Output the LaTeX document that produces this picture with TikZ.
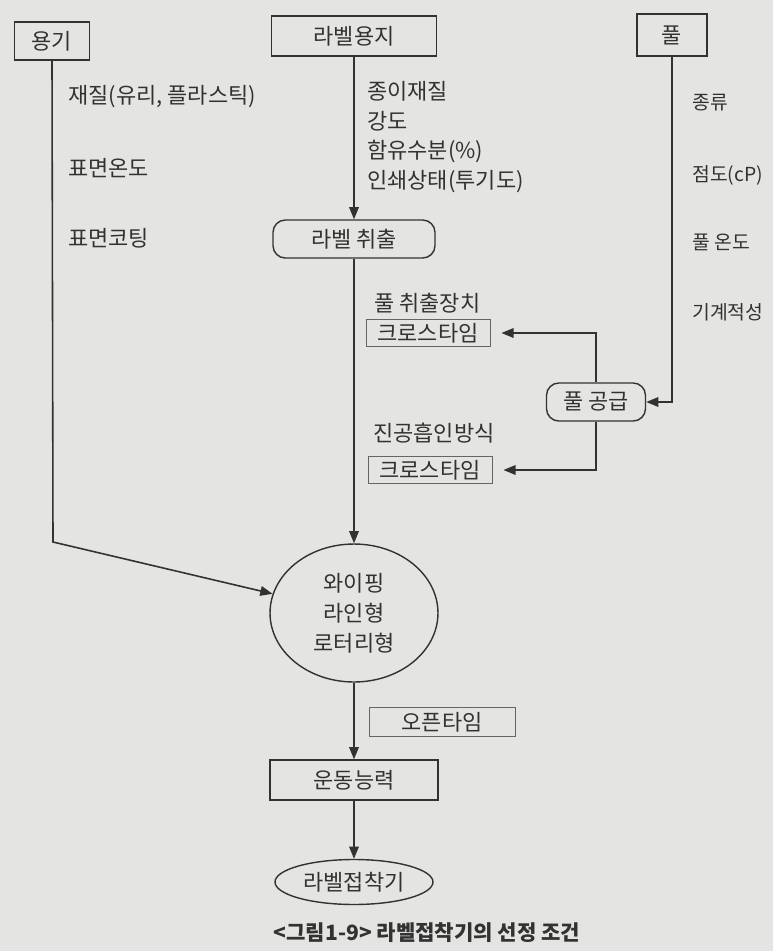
\documentclass[tikz,border=0pt]{standalone}
\usepackage{fontspec}
\setmainfont{Noto Sans CJK KR}
\usetikzlibrary{positioning,arrows.meta,shapes.geometric}
\definecolor{paper}{RGB}{228,228,226}
\definecolor{ink}{RGB}{50,50,50}
\tikzstyle{sbox}=[rectangle, draw=ink, text=ink, line width=0.8pt, inner sep=2pt,
                  text centered, font=\fontsize{12.5}{14}\selectfont]
\tikzstyle{rbox}=[sbox, rounded corners=7pt]
\tikzstyle{tbox}=[sbox, draw=ink!75, line width=0.5pt, minimum width=2.48cm,
                  minimum height=0.53cm]
\tikzstyle{ebox}=[ellipse, draw=ink, text=ink, line width=0.8pt, inner sep=0pt,
                  text centered, font=\fontsize{12.5}{14}\selectfont]
\tikzstyle{note}=[anchor=west, inner sep=0pt, text=ink, align=left,
                  font=\fontsize{12.5}{17}\selectfont]
\tikzstyle{rnote}=[note, font=\fontsize{11}{13}\selectfont]
\tikzstyle{pline}=[-{Triangle[length=7pt,width=5.5pt]}, line width=0.9pt, draw=ink]

\begin{document}
\begin{tikzpicture}[x=0.02cm, y=-0.02cm]
\fill[paper] (0,0) rectangle (773,951);
\useasboundingbox (0,0) rectangle (773,951);

\node (YONGGI) [sbox, minimum width=1.5cm, minimum height=0.76cm] at (52,41) {용기};
\node (PAPER) [sbox, minimum width=3.3cm, minimum height=0.8cm] at (354,36) {라벨용지};
\node (GLUE) [sbox, minimum width=1.4cm, minimum height=0.84cm] at (672,35) {풀};

\node (YNOTE1) [note] at (68,97) {재질(유리, 플라스틱)};
\node (YNOTE2) [note] at (68,168) {표면온도};
\node (YNOTE3) [note] at (68,238) {표면코팅};
\node (PNOTE) [note] at (367,137) {종이재질\\강도\\함유수분(\%)\\인쇄상태(투기도)};
\node (GNOTE1) [rnote] at (692,103) {종류};
\node (GNOTE2) [rnote] at (692,175) {점도(cP)};
\node (GNOTE3) [rnote] at (692,242) {풀 온도};
\node (GNOTE4) [rnote] at (692,312) {기계적성};

\node (TAKEOUT) [rbox, minimum width=3.24cm, minimum height=0.76cm] at (354,239) {라벨 취출};
 \draw[pline] (PAPER.south) -- (TAKEOUT.north);

\node (SUPPLY) [rbox, minimum width=1.98cm, minimum height=0.76cm] at (596,402) {풀 공급};
 \draw[pline] (GLUE.south) |- (SUPPLY.east);

\node (DEVNOTE) [note] at (374,303) {풀 취출장치};
\node (CROSS1) [tbox] at (428,333) {크로스타임};
 \draw[pline] (SUPPLY.north) |- ([xshift=0.22cm]CROSS1.east);
\node (VACNOTE) [note] at (373,433) {진공흡인방식};
\node (CROSS2) [tbox] at (430,470) {크로스타임};
 \draw[pline] (SUPPLY.south) |- ([xshift=0.22cm]CROSS2.east);

\node (APPLY) [ebox, minimum width=3.36cm, minimum height=2.76cm, align=center,
  font=\fontsize{12.5}{17}\selectfont] at (354,613) {와이핑\\라인형\\로터리형};
 \draw[pline] (TAKEOUT.south) -- (APPLY.north);
\coordinate (BEND) at (53,542);
 \draw[pline] (YONGGI.south) -- (BEND) -- (APPLY);

\node (OPEN) [tbox, minimum width=2.92cm, minimum height=0.58cm] at (442,722) {오픈타임};
\node (MOTION) [sbox, minimum width=3.36cm, minimum height=0.8cm] at (354,780) {운동능력};
 \draw[pline] (APPLY.south) -- (MOTION.north);
\node (LABELER) [ebox, minimum width=3.16cm, minimum height=0.9cm] at (354,882) {라벨접착기};
 \draw[pline] (MOTION.south) -- (LABELER.north);

\node (CAPTION) [text=ink, font=\fontsize{12}{14}\bfseries\selectfont] at (427,933)
  {<그림1-9> 라벨접착기의 선정 조건};

\end{tikzpicture}
\end{document}
